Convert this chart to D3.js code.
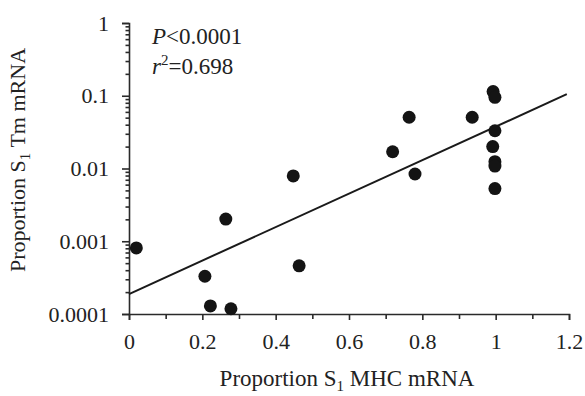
<!DOCTYPE html>
<html>
<head>
<meta charset="utf-8">
<script src="https://cdn.jsdelivr.net/npm/d3@7"></script>
<style>
  body { margin: 0; background: #fff; }
  svg { font-family: "Liberation Serif", "DejaVu Serif", serif; }
  .axis path, .axis line { stroke: #2a2a2a; stroke-width: 1.6; }
  .axis text { font-size: 22px; fill: #222; font-family: "Liberation Serif", serif; }
</style>
</head>
<body>
<div id="chart"></div>
<script>
// data
var mhc = [0.02, 0.207, 0.222, 0.278, 0.264, 0.448, 0.464, 0.719, 0.764, 0.78,
           0.936, 0.993, 0.998, 0.998, 0.992, 0.998, 0.998, 0.998];
var tm = [0.00081, 0.00033, 0.000129, 0.000118, 0.00202, 0.0079, 0.00046, 0.017, 0.0506, 0.0084,
          0.0506, 0.114, 0.095, 0.033, 0.020, 0.0124, 0.0108, 0.0053];

// fitted line end points
var fitX = [0, 1.194];
var fitY = [0.000188, 0.105];

var xTicks = [0, 0.2, 0.4, 0.6, 0.8, 1, 1.2];
var xTickLabels = ['0', '0.2', '0.4', '0.6', '0.8', '1', '1.2'];
var yTicks = [0.0001, 0.001, 0.01, 0.1, 1];
var yTickLabels = ['0.0001', '0.001', '0.01', '0.1', '1'];

var width = 585, height = 396;
var margin = {top: 23, right: 16, bottom: 82, left: 129};

var svg = d3.select('#chart').append('svg')
  .attr('width', width)
  .attr('height', height);

var x = d3.scaleLinear()
  .domain([0, 1.2])
  .range([margin.left, 569]);

var y = d3.scaleLog()
  .domain([0.0001, 1])
  .range([314, margin.top]);

// minor ticks
var yMinor = [];
yTicks.slice(0, -1).forEach(function (t) {
  for (var k = 2; k <= 9; k++) yMinor.push(t * k);
});
var xMinor = [0.1, 0.3, 0.5, 0.7, 0.9, 1.1];

svg.append('g')
  .attr('class', 'axis')
  .attr('transform', 'translate(' + x(0) + ',0)')
  .call(d3.axisLeft(y).tickValues(yMinor).tickSize(3.5).tickFormat(''))
  .select('.domain').remove();

svg.append('g')
  .attr('class', 'axis')
  .attr('transform', 'translate(0,' + y(0.0001) + ')')
  .call(d3.axisBottom(x).tickValues(xMinor).tickSize(5).tickFormat(''))
  .select('.domain').remove();

var yAxis = svg.append('g')
  .attr('class', 'axis')
  .attr('transform', 'translate(' + x(0) + ',0)')
  .call(d3.axisLeft(y).tickValues(yTicks).tickSizeOuter(0).tickSize(7).tickPadding(13)
    .tickFormat(function (d, i) { return yTickLabels[i]; }));

var xAxis = svg.append('g')
  .attr('class', 'axis')
  .attr('transform', 'translate(0,' + y(0.0001) + ')')
  .call(d3.axisBottom(x).tickValues(xTicks).tickSizeOuter(0).tickSize(6).tickPadding(13)
    .tickFormat(function (d, i) { return xTickLabels[i]; }));

// fit line
var line = d3.line()
  .x(function (d) { return x(d[0]); })
  .y(function (d) { return y(d[1]); });

svg.append('path')
  .datum(d3.zip(fitX, fitY))
  .attr('d', line)
  .attr('fill', 'none')
  .attr('stroke', '#1a1a1a')
  .attr('stroke-width', 2);

// points
svg.selectAll('.dot')
  .data(d3.zip(mhc, tm))
  .enter().append('circle')
  .attr('class', 'dot')
  .attr('cx', function (d) { return x(d[0]); })
  .attr('cy', function (d) { return y(d[1]); })
  .attr('r', 6.5)
  .attr('fill', '#141414');

// stats text
var p = svg.append('text')
  .attr('x', 152).attr('y', 44)
  .style('font-size', '23px').attr('fill', '#222');
p.append('tspan').style('font-style', 'italic').text('P');
p.append('tspan').text('<0.0001');

var r = svg.append('text')
  .attr('x', 152).attr('y', 74)
  .style('font-size', '23px').attr('fill', '#222');
r.append('tspan').style('font-style', 'italic').text('r');
r.append('tspan').attr('dy', -9).style('font-size', '15px').text('2');
r.append('tspan').attr('dy', 9).text('=0.698');

// axis titles
var xt = svg.append('text')
  .attr('x', 347)
  .attr('y', 386)
  .attr('text-anchor', 'middle')
  .style('font-size', '23px').attr('fill', '#222');
xt.append('tspan').text('Proportion S');
xt.append('tspan').attr('dy', 5).style('font-size', '15px').text('1');
xt.append('tspan').attr('dy', -5).text(' MHC mRNA');

var yt = svg.append('text')
  .attr('transform', 'translate(25,' + 160 + ') rotate(-90)')
  .attr('text-anchor', 'middle')
  .style('font-size', '22px').attr('fill', '#222');
yt.append('tspan').text('Proportion S');
yt.append('tspan').attr('dy', 5).style('font-size', '15px').text('1');
yt.append('tspan').attr('dy', -5).text(' Tm mRNA');
</script>
</body>
</html>
